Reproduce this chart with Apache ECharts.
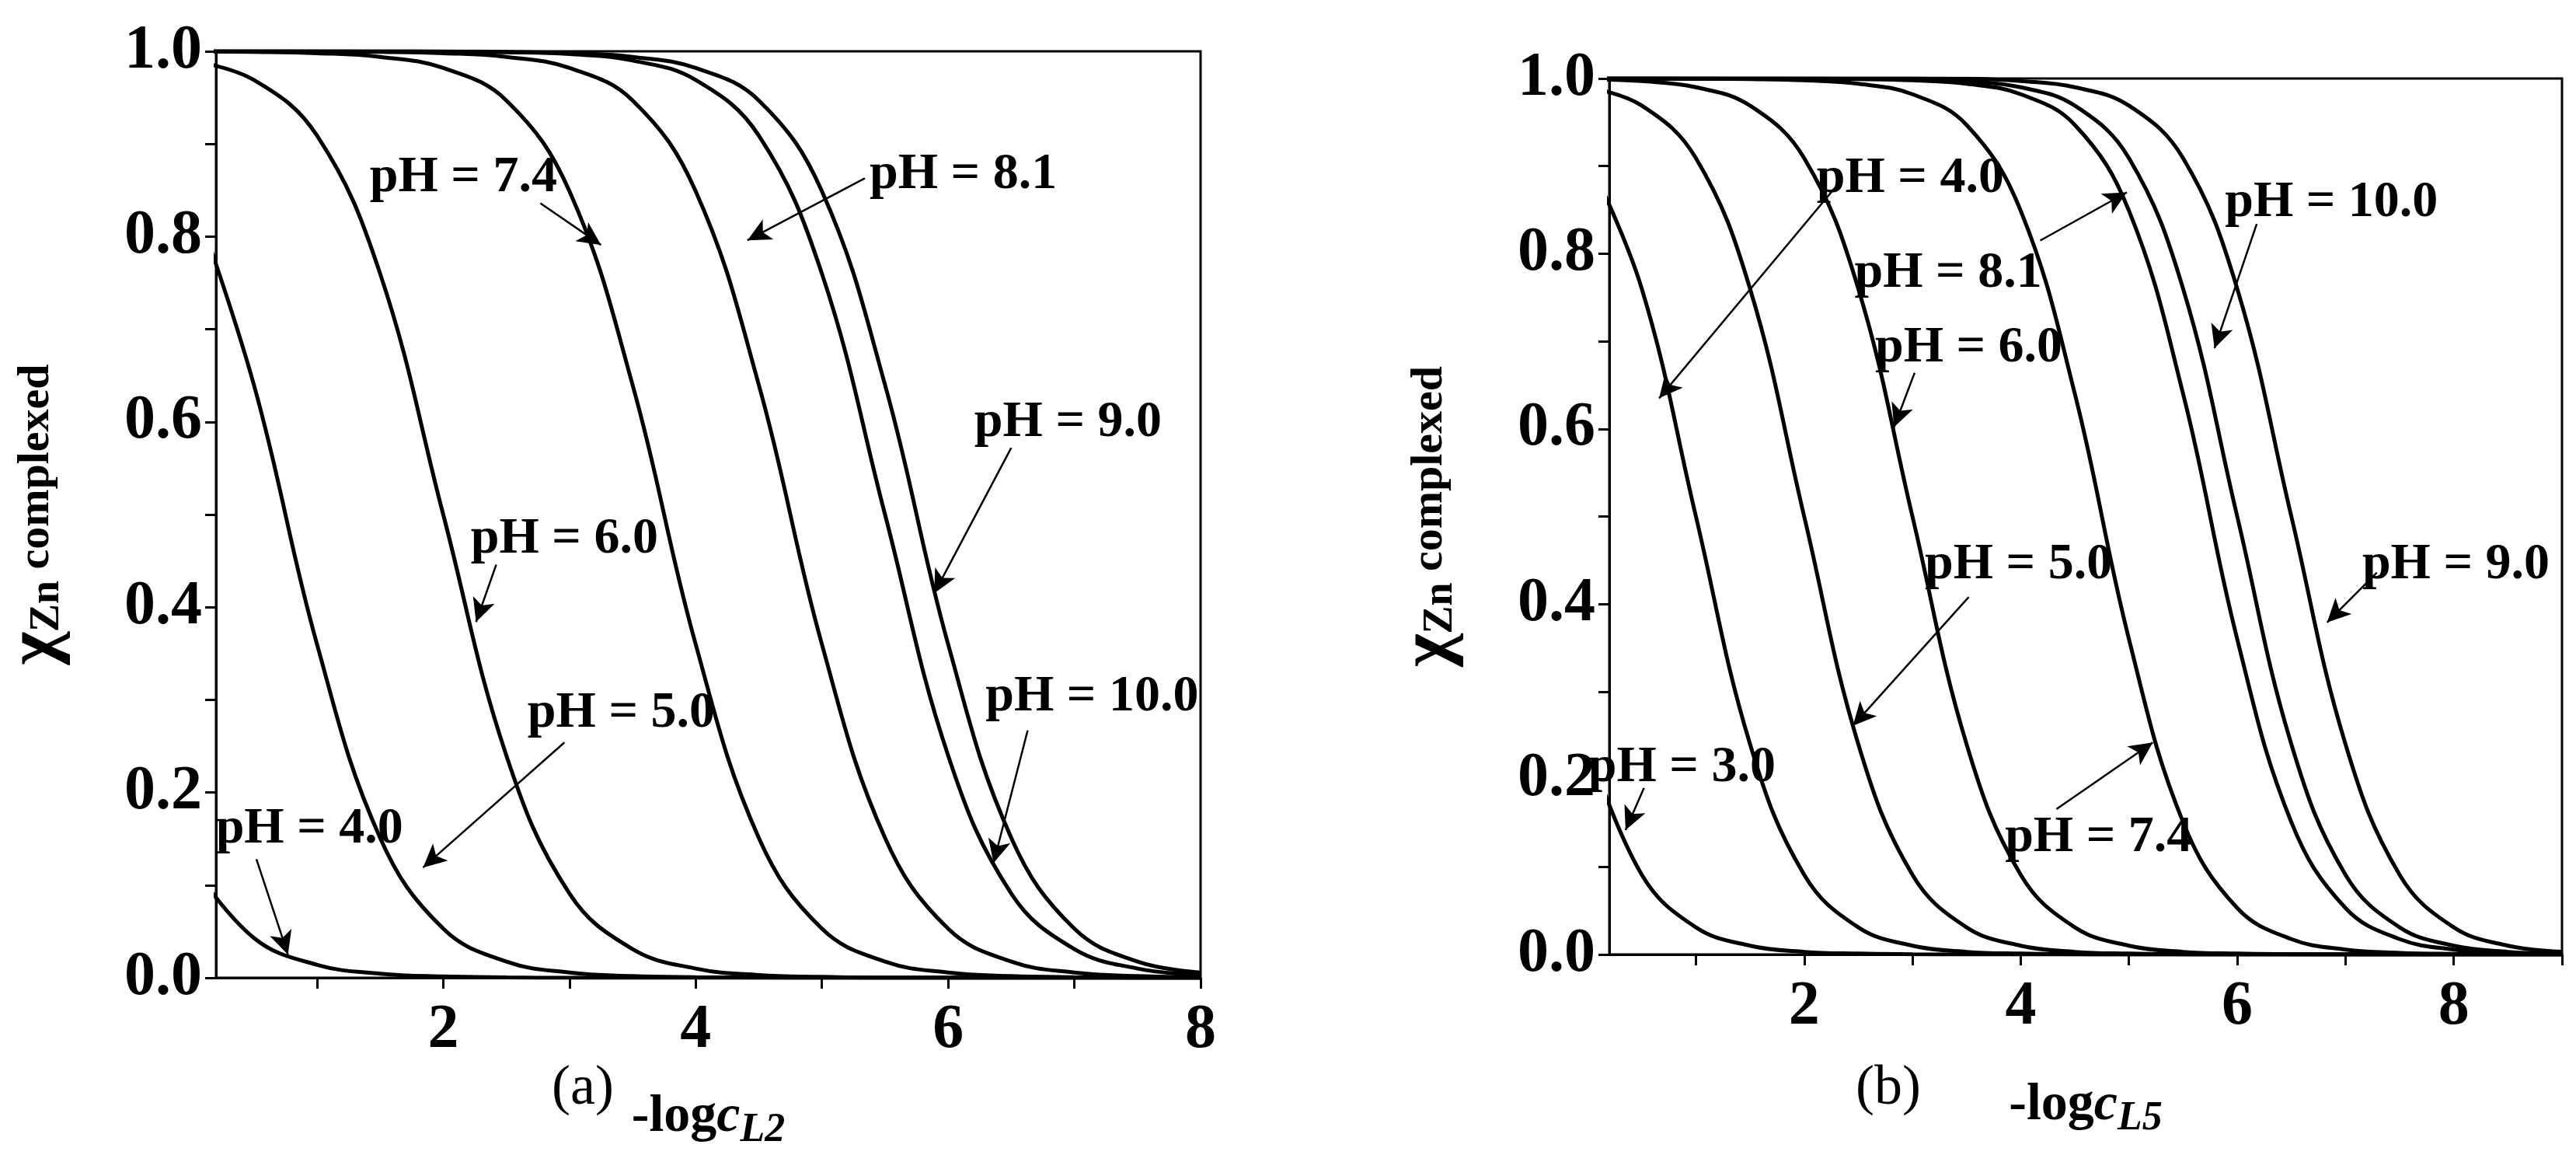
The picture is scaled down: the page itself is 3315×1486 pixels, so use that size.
<!DOCTYPE html>
<html>
<head>
    <meta charset="UTF-8">
    <title></title>
    <script src="https://cdn.jsdelivr.net/npm/echarts@6/dist/echarts.min.js"></script>
</head>
<body style="margin:0;background:#fff;">
<div id="main" style="width:3315px;height:1486px;"></div>
<script type="text/javascript">
    // x grid (step 0.5)
    var xA = [0, 0.5, 1, 1.5, 2, 2.5, 3, 3.5, 4, 4.5, 5, 5.5, 6, 6.5, 7, 7.5, 8];
    var xB = [0, 0.5, 1, 1.5, 2, 2.5, 3, 3.5, 4, 4.5, 5, 5.5, 6, 6.5, 7, 7.5, 8, 8.5, 9];

    // panel (a): -logcL2
    var a_pH40 = [0.124, 0.043, 0.014, 0.0045, 0.0014, 0.0004, 0, 0, 0, 0, 0, 0, 0, 0, 0, 0, 0];
    var a_pH50 = [0.849, 0.640, 0.360, 0.151, 0.053, 0.0175, 0.0056, 0.0018, 0.0006, 0.0002, 0, 0, 0, 0, 0, 0, 0];
    var a_pH60 = [0.990, 0.969, 0.909, 0.760, 0.5, 0.240, 0.091, 0.031, 0.010, 0.003, 0.001, 0, 0, 0, 0, 0, 0];
    var a_pH74 = [0.9998, 0.9994, 0.998, 0.994, 0.982, 0.947, 0.849, 0.640, 0.360, 0.151, 0.053, 0.0175, 0.0056, 0.0018, 0.0006, 0.0002, 0.0001];
    var a_pH81 = [1, 1, 0.9998, 0.9994, 0.998, 0.994, 0.982, 0.947, 0.849, 0.640, 0.360, 0.151, 0.053, 0.0175, 0.0056, 0.0018, 0.0006];
    var a_pH90 = [1, 1, 1, 1, 0.9998, 0.9994, 0.998, 0.994, 0.982, 0.947, 0.849, 0.640, 0.360, 0.151, 0.053, 0.0175, 0.0056];
    var a_pH100 = [1, 1, 1, 1, 0.9997, 0.999, 0.997, 0.990, 0.969, 0.909, 0.760, 0.5, 0.240, 0.091, 0.031, 0.010, 0.003];

    // panel (b): -logcL5
    var b_pH30 = [0.240, 0.091, 0.031, 0.010, 0.003, 0.001, 0.0003, 0, 0, 0, 0, 0, 0, 0, 0, 0, 0, 0, 0];
    var b_pH40 = [0.909, 0.760, 0.5, 0.240, 0.091, 0.031, 0.010, 0.003, 0.001, 0.0003, 0, 0, 0, 0, 0, 0, 0, 0, 0];
    var b_pH50 = [0.990, 0.969, 0.909, 0.760, 0.5, 0.240, 0.091, 0.031, 0.010, 0.003, 0.001, 0.0003, 0, 0, 0, 0, 0, 0, 0];
    var b_pH60 = [0.999, 0.997, 0.990, 0.969, 0.909, 0.760, 0.5, 0.240, 0.091, 0.031, 0.010, 0.003, 0.001, 0.0003, 0, 0, 0, 0, 0];
    var b_pH74 = [1, 1, 0.9998, 0.9994, 0.998, 0.994, 0.982, 0.947, 0.849, 0.640, 0.360, 0.151, 0.053, 0.0175, 0.0056, 0.0018, 0.0006, 0.0002, 0.0001];
    var b_pH81 = [1, 1, 1, 1, 0.9998, 0.9994, 0.998, 0.994, 0.982, 0.947, 0.849, 0.640, 0.360, 0.151, 0.053, 0.0175, 0.0056, 0.0018, 0.0006];
    var b_pH100 = [1, 1, 1, 1, 1, 1, 0.9999, 0.997, 0.990, 0.969, 0.909, 0.760, 0.5, 0.240, 0.091, 0.031, 0.010, 0.003, 0.001];
    var b_pH90 = [1, 1, 1, 1, 1, 1, 1, 0.9997, 0.997, 0.990, 0.969, 0.909, 0.760, 0.5, 0.240, 0.091, 0.031, 0.010, 0.003];

    // annotations: [text, textX, textY, fromX, fromY, toX, toY]
    var notesA = [
        ['pH = 7.4', 2.16, 0.863, 2.77, 0.836, 3.25, 0.791],
        ['pH = 8.1', 6.12, 0.867, 5.34, 0.863, 4.41, 0.796],
        ['pH = 9.0', 6.95, 0.599, 6.50, 0.572, 5.89, 0.415],
        ['pH = 6.0', 2.96, 0.473, 2.42, 0.446, 2.26, 0.384],
        ['pH = 10.0', 7.14, 0.303, 6.63, 0.267, 6.36, 0.124],
        ['pH = 5.0', 3.41, 0.285, 2.96, 0.254, 1.84, 0.119],
        ['pH = 4.0', 0.94, 0.160, 0.52, 0.128, 0.77, 0.025]
    ];
    var notesB = [
        ['pH = 4.0', 2.98, 0.886, 2.33, 0.882, 0.66, 0.635],
        ['pH = 8.1', 3.33, 0.777, 4.18, 0.815, 4.98, 0.870],
        ['pH = 10.0', 6.87, 0.858, 6.18, 0.834, 5.79, 0.692],
        ['pH = 6.0', 3.52, 0.692, 3.02, 0.664, 2.83, 0.602],
        ['pH = 5.0', 3.98, 0.445, 3.52, 0.408, 2.45, 0.261],
        ['pH = 9.0', 8.02, 0.445, 7.29, 0.436, 6.83, 0.379],
        ['pH = 7.4', 4.72, 0.133, 4.33, 0.166, 5.22, 0.242],
        ['pH = 3.0', 0.87, 0.213, 0.52, 0.190, 0.35, 0.142]
    ];

    var FONT = '"Liberation Serif", "Times New Roman", serif';
    var myChart = echarts.init(document.getElementById('main'));

    function pairs(xs, ys) {
        return xs.map(function (x, i) { return [x, ys[i]]; });
    }

    function curve(idx, xs, ys) {
        return {
            type: 'line', xAxisIndex: idx, yAxisIndex: idx,
            data: pairs(xs, ys), smooth: 0.4,
            showSymbol: false, clip: true,
            lineStyle: { color: '#000', width: 5 }
        };
    }

    function noteSeries(idx, notes) {
        return {
            type: 'line', xAxisIndex: idx, yAxisIndex: idx, data: [], silent: true,
            markPoint: {
                symbol: 'circle', symbolSize: 0,
                label: {
                    show: true, position: 'inside', color: '#000',
                    fontFamily: FONT, fontWeight: 'bold', fontSize: 66,
                    formatter: function (p) { return p.name; }
                },
                data: notes.map(function (n) { return { name: n[0], coord: [n[1], n[2]] }; })
            },
            markLine: {
                symbol: ['none', 'arrow'], symbolSize: [22, 30], animation: false,
                label: { show: false },
                lineStyle: { color: '#000', width: 2.5, type: 'solid' },
                data: notes.map(function (n) { return [{ coord: [n[3], n[4]] }, { coord: [n[5], n[6]] }]; })
            }
        };
    }

    function xAxis(idx, max, ticks, labels, sub, gap) {
        return {
            type: 'value', gridIndex: idx, min: 0.2, max: max,
            name: '{n|-log}{i|c}{s|' + sub + '}', nameLocation: 'middle', nameGap: gap,
            nameTextStyle: {
                rich: {
                    n: { fontFamily: FONT, fontWeight: 'bold', fontSize: 68, color: '#000' },
                    i: { fontFamily: FONT, fontWeight: 'bold', fontStyle: 'italic', fontSize: 68, color: '#000' },
                    s: { fontFamily: FONT, fontWeight: 'bold', fontStyle: 'italic', fontSize: 52, color: '#000', padding: [36, 0, 0, 0] }
                }
            },
            axisLine: { lineStyle: { color: '#000', width: 3 } },
            axisTick: { customValues: ticks, length: 14, lineStyle: { color: '#000', width: 3 } },
            axisLabel: { customValues: labels, margin: 28, color: '#000', fontFamily: FONT, fontWeight: 'bold', fontSize: 80 },
            splitLine: { show: false }
        };
    }

    function yAxis(idx) {
        return {
            type: 'value', gridIndex: idx, min: 0, max: 1, interval: 0.2,
            name: '{g|χ}{s|Zn}{n| complexed}', nameLocation: 'middle', nameGap: 185, nameRotate: 90,
            nameTextStyle: {
                rich: {
                    g: { fontFamily: FONT, fontWeight: 'bold', fontSize: 92, color: '#000' },
                    s: { fontFamily: FONT, fontWeight: 'bold', fontSize: 54, color: '#000', padding: [28, 0, 0, 0] },
                    n: { fontFamily: FONT, fontWeight: 'bold', fontSize: 58, color: '#000' }
                }
            },
            axisLine: { lineStyle: { color: '#000', width: 3 } },
            axisTick: { length: 14, lineStyle: { color: '#000', width: 3 } },
            minorTick: { show: true, splitNumber: 2, length: 14, lineStyle: { color: '#000', width: 3 } },
            axisLabel: { margin: 18, color: '#000', fontFamily: FONT, fontWeight: 'bold', fontSize: 80,
                formatter: function (v) { return v.toFixed(1); } },
            splitLine: { show: false }
        };
    }

    option = {
        backgroundColor: '#fff',
        animation: false,
        title: [
            { text: '(a)', left: 745, top: 1360, textAlign: 'center',
              textStyle: { fontFamily: FONT, fontWeight: 'normal', fontSize: 72, color: '#000' } },
            { text: '(b)', left: 2425, top: 1360, textAlign: 'center',
              textStyle: { fontFamily: FONT, fontWeight: 'normal', fontSize: 72, color: '#000' } }
        ],
        grid: [
            { left: 254, right: 1770, top: 66, bottom: 224, show: true, borderColor: '#000', borderWidth: 3 },
            { left: 2071, right: 18, top: 101, bottom: 258, show: true, borderColor: '#000', borderWidth: 3 }
        ],
        xAxis: [
            xAxis(0, 8, [1, 2, 3, 4, 5, 6, 7, 8], [2, 4, 6, 8], 'L2', 135),
            xAxis(1, 9, [1, 2, 3, 4, 5, 6, 7, 8, 9], [2, 4, 6, 8], 'L5', 150)
        ],
        yAxis: [yAxis(0), yAxis(1)],
        series: [
            curve(0, xA, a_pH40), curve(0, xA, a_pH50), curve(0, xA, a_pH60), curve(0, xA, a_pH74),
            curve(0, xA, a_pH81), curve(0, xA, a_pH90), curve(0, xA, a_pH100),
            curve(1, xB, b_pH30), curve(1, xB, b_pH40), curve(1, xB, b_pH50), curve(1, xB, b_pH60),
            curve(1, xB, b_pH74), curve(1, xB, b_pH81), curve(1, xB, b_pH100), curve(1, xB, b_pH90),
            noteSeries(0, notesA), noteSeries(1, notesB)
        ]
    };
    myChart.setOption(option);
</script>
</body>
</html>
